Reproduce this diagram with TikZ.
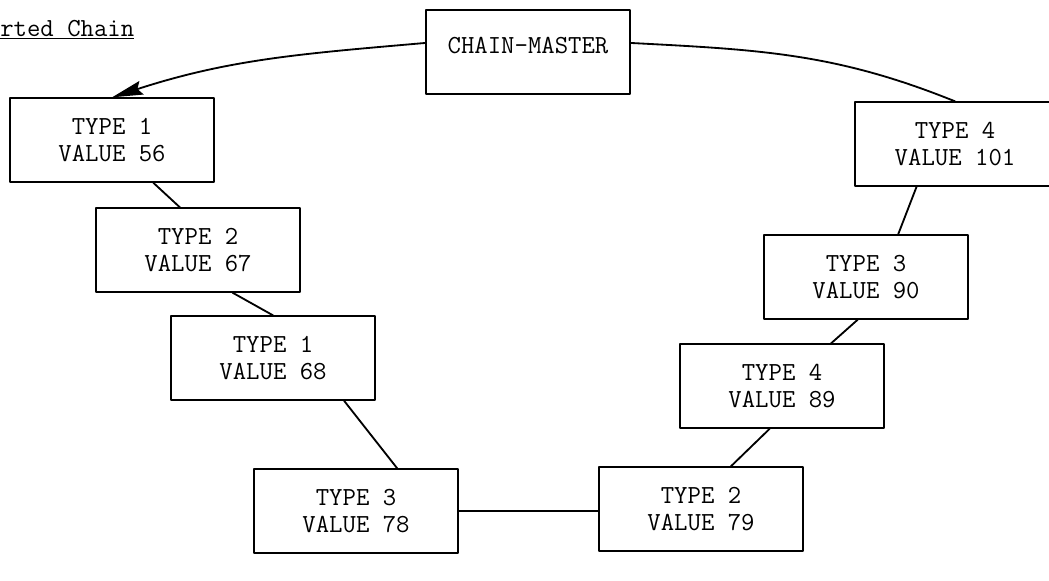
\documentclass[tikz,border=0pt]{standalone}
\usetikzlibrary{arrows.meta}
\begin{document}
\begin{tikzpicture}[x=0.025cm, y=-0.025cm, line join=round, line cap=round, >={Stealth[length=22pt,width=10pt,inset=3pt]},
  rec/.style={draw, line width=1.5pt, minimum width=5.1cm, minimum height=2.08cm, align=center, inner sep=0pt, font=\ttfamily\fontsize{18.5}{19.5}\selectfont},
  lnk/.style={line width=1.3pt}]
\useasboundingbox (0,0) rectangle (1049,580);
\node[anchor=base west, inner sep=0pt, font=\ttfamily\fontsize{18.5}{19.5}\selectfont] (ttl) at (0,36) {\underline{rted Chain}};
\node[rec] (cm) at (528,52) {\raisebox{9pt}{CHAIN-MASTER}};
\node[rec] (t56) at (112,140) {TYPE 1\\VALUE 56};
\node[rec] (t67) at (198,250) {TYPE 2\\VALUE 67};
\node[rec] (t68) at (273,358) {TYPE 1\\VALUE 68};
\node[rec] (t78) at (356,511) {TYPE 3\\VALUE 78};
\node[rec] (t79) at (701,509) {TYPE 2\\VALUE 79};
\node[rec] (t89) at (782,386) {TYPE 4\\VALUE 89};
\node[rec] (t90) at (866,277) {TYPE 3\\VALUE 90};
\node[rec, minimum width=5cm] (t101) at (955,144) {TYPE 4\\VALUE 101};
\draw[lnk, ->] (cm.175) to[out=185, in=18] (t56.north);
\draw[lnk] (cm.5) to[out=-3, in=158] (t101.north);
\draw[lnk] (t56.-46) -- (t67.113);
\draw[lnk] (t67.-51) -- (t68.north);
\draw[lnk] (t68.-31) -- (t78.46);
\draw[lnk] (t78.east) -- (t78.east -| t79.west);
\draw[lnk] (t79.55) -- (t89.-106);
\draw[lnk] (t89.41) -- (t90.-101);
\draw[lnk] (t90.53) -- (t101.-132);
\end{tikzpicture}
\end{document}
